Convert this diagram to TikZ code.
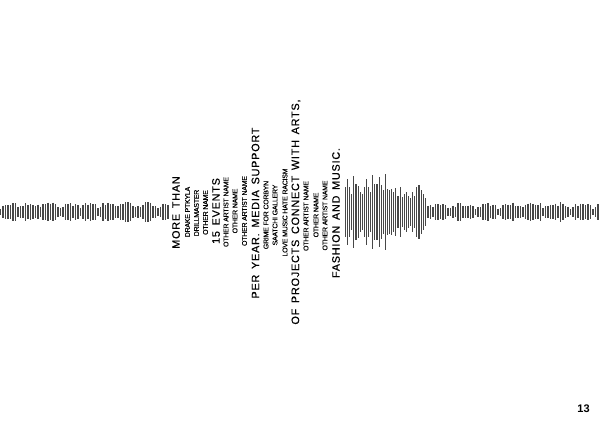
\documentclass[tikz,border=0pt]{standalone}
\usepackage{fontspec}
\setmainfont{Liberation Sans}
\newfontfamily\headfont[LetterSpace=7.5,WordSpace=1.5,FakeBold=0.5]{Liberation Sans}
\newfontfamily\namefont[LetterSpace=-3.5,FakeBold=0.3]{Liberation Sans}
\usepackage{tikz}

\tikzset{
	heading/.style={rotate=90, inner sep=0, font=\headfont\fontsize{10.8}{10.8}\selectfont},
	artist/.style={rotate=90, inner sep=0, font=\namefont\fontsize{7}{7}\selectfont},
	bar/.style={line width=1.15pt, black!72}
}

\begin{document}
\begin{tikzpicture}[x=1pt, y=-1pt]
		\useasboundingbox (0,0) rectangle (600,423);
		
		% quiet part, left of the text
		\pgfmathsetseed{13}
		\foreach \i in {0,...,67} {
			\pgfmathsetmacro{\px}{0.5+2.5*\i}
			\pgfmathsetmacro{\amp}{3+3.5*abs(sin(\i*23))+3.5*rnd}
			\draw [bar] (\px, 212-\amp) -- (\px, 212+\amp);
		}
		
		% the burst
		\foreach \amp [count=\i from 0] in {25,33,25,18,36,28,26,20,18,25,33,25,20,37,28,28,35,27,22,38,23,22,23,20,24,16,25,15,18,20,16,14,20,16,25,27,22,18,14} {
			\pgfmathsetmacro{\px}{345.5+2.1*\i}
			\draw [bar] (\px, 212-\amp) -- (\px, 212+\amp);
		}
		
		% quiet part, right of the burst
		\foreach \i in {0,...,68} {
			\pgfmathsetmacro{\px}{428+2.5*\i}
			\pgfmathsetmacro{\amp}{2.5+3.5*abs(sin(\i*19))+4*rnd}
			\draw [bar] (\px, 212-\amp) -- (\px, 212+\amp);
		}
		
		\node [heading] (more) at (176, 212.5) {MORE THAN};
		\node [artist] (drake) at (187.5, 212) {DRAKE PTKYLA};
		\node [artist] (drill) at (196.5, 213) {DRILLMASTER};
		\node [artist] (nameA) at (205.5, 212.5) {OTHER NAME};
		\node [heading] (events) at (216, 211) {15 EVENTS};
		\node [artist] (nameB) at (226, 212) {OTHER ARTIST NAME};
		\node [artist] (nameC) at (235, 211) {OTHER NAME};
		\node [artist] (nameD) at (244.5, 211) {OTHER ARTIST NAME};
		\node [heading] (support) at (255.5, 213) {PER YEAR. MEDIA SUPPORT};
		\node [artist] (grime) at (266, 215) {GRIME FOR CORBYN};
		\node [artist] (saatchi) at (275, 215) {SAATCHI GALLERY};
		\node [artist] (love) at (285, 212.5) {LOVE MUSIC HATE RACISM};
		\node [heading] (arts) at (296, 212) {OF PROJECTS CONNECT WITH ARTS,};
		\node [artist] (nameE) at (306, 216) {OTHER ARTIST NAME};
		\node [artist] (nameF) at (316, 215) {OTHER NAME};
		\node [artist] (nameG) at (325, 215.5) {OTHER ARTIST NAME};
		\node [heading] (music) at (336, 213) {FASHION AND MUSIC.};
		
		\node [font=\bfseries\fontsize{11}{11}\selectfont, inner sep=0] (page) at (583.5, 409) {13};
	\end{tikzpicture}
\end{document}
